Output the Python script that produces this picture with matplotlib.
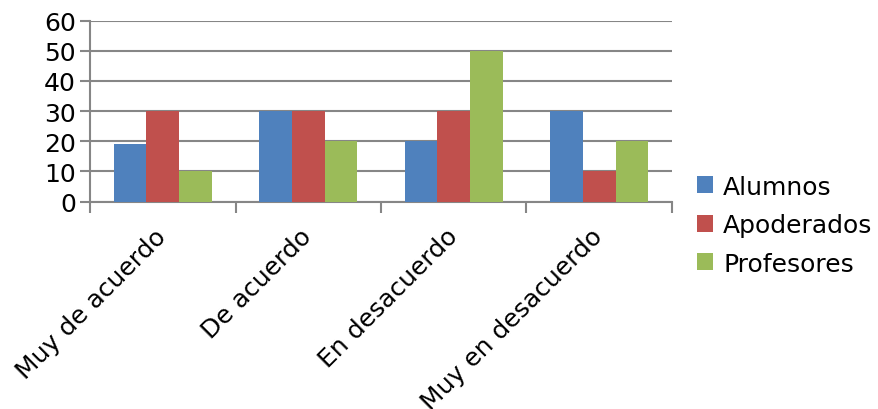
import numpy as np
import matplotlib.pyplot as plt

categories = ['Muy de acuerdo', 'De acuerdo', 'En desacuerdo', 'Muy en desacuerdo']
alumnos = [19, 30, 20, 30]
apoderados = [30, 30, 30, 10]
profesores = [10, 20, 50, 20]
series = ['Alumnos', 'Apoderados', 'Profesores']
colors = ['#4F81BD', '#C0504D', '#9BBB59']

fig = plt.figure(figsize=(8.79, 4.10), dpi=100)
ax = fig.add_axes([0.1024, 0.506, 0.6621, 0.4414])

x = np.arange(len(categories))
w = 0.224
for i, (vals, name, c) in enumerate(zip([alumnos, apoderados, profesores], series, colors)):
    ax.bar(x + (i - 1) * w, vals, w, color=c, label=name, zorder=3)

ax.set_xlim(-0.5, len(categories) - 0.5)
ax.set_ylim(0, 60)
ax.set_yticks(range(0, 61, 10))
ax.yaxis.grid(True, color='#868686', linewidth=1.5, zorder=0)
ax.set_axisbelow(True)

ax.set_xticks(np.arange(len(categories) + 1) - 0.5)
ax.set_xticklabels([])
ax.set_xticks(x, minor=True)
ax.set_xticklabels(categories, minor=True, rotation=45, ha='right', va='center',
                   rotation_mode='anchor', fontsize=18)
ax.tick_params(axis='x', which='minor', length=0, pad=22)
ax.tick_params(axis='x', which='major', length=8, width=1.5, color='#868686')
ax.tick_params(axis='y', length=7, width=1.5, color='#868686', labelsize=18, pad=3)

for s in ['top', 'right']:
    ax.spines[s].set_visible(False)
for s in ['left', 'bottom']:
    ax.spines[s].set_color('#868686')
    ax.spines[s].set_linewidth(1.5)

ax.legend(loc='center left', bbox_to_anchor=(1.043, -0.13), frameon=False,
          fontsize=18, handlelength=0.65, handleheight=0.65, handletextpad=0.4,
          labelspacing=0.58, borderpad=0, borderaxespad=0)

fig.savefig('out.png', dpi=100)
